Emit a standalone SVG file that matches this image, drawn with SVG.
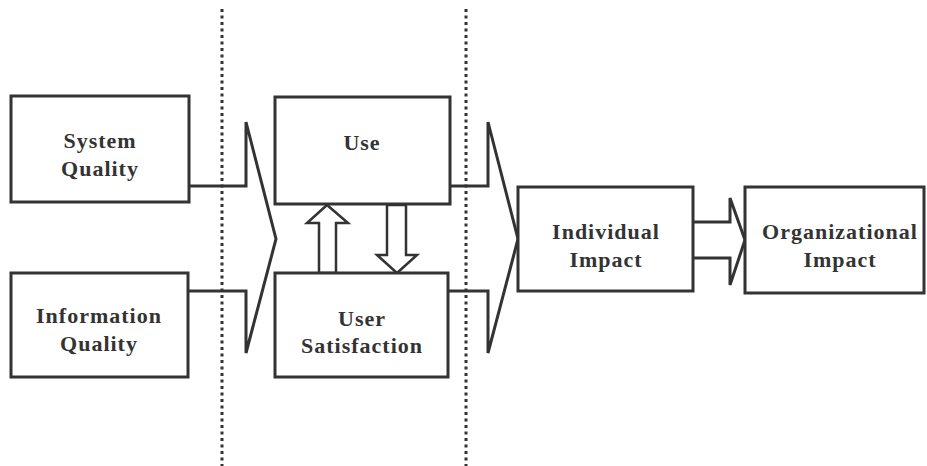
<svg xmlns="http://www.w3.org/2000/svg" width="927" height="466" viewBox="0 0 927 466">
<style>
.box{fill:#fff;stroke:#333;stroke-width:3}
.con{fill:none;stroke:#333;stroke-width:3;stroke-linejoin:miter}
.arr{fill:#fff;stroke:#333;stroke-width:2.5;stroke-linejoin:miter}
.div{stroke:#333;stroke-width:3;stroke-dasharray:3 3.5}
text{font-family:"Liberation Serif","Times New Roman",serif;font-weight:bold;font-size:22px;fill:#333;text-anchor:middle;letter-spacing:1px}
</style>
<rect width="927" height="466" fill="#fff"/>
<g id="dividers">
<line class="div" x1="222" y1="9" x2="222" y2="466"/>
<line class="div" x1="466" y1="9" x2="466" y2="466"/>
</g>
<g id="connectors">
<polyline class="con" points="189,186 246,186 246,122 276,239 246,353 246,291 189,291"/>
<polyline class="con" points="449,186 488,186 488,122 518,239 488,353 488,291 449,291"/>
<polyline class="con" points="693,222 730,222 730,198 745,240 730,285 730,258 693,258"/>
<polygon class="arr" points="319,273 319,223 307,223 327,205 348,223 336,223 336,273"/>
<polygon class="arr" points="387,205 387,255 377,255 397,273 417,255 406,255 406,205"/>
</g>
<g id="system-quality">
<rect class="box" x="11" y="96" width="178" height="106"/>
<text x="100" y="148">System</text>
<text x="100" y="176">Quality</text>
</g>
<g id="information-quality">
<rect class="box" x="11" y="273" width="177" height="104"/>
<text x="99" y="323">Information</text>
<text x="99" y="351">Quality</text>
</g>
<g id="use">
<rect class="box" x="275" y="97" width="175" height="107"/>
<text x="362" y="150">Use</text>
</g>
<g id="user-satisfaction">
<rect class="box" x="275" y="273" width="173" height="104"/>
<text x="362" y="326">User</text>
<text x="362" y="353">Satisfaction</text>
</g>
<g id="individual-impact">
<rect class="box" x="518" y="187" width="175" height="104"/>
<text x="606" y="239">Individual</text>
<text x="606" y="267">Impact</text>
</g>
<g id="organizational-impact">
<rect class="box" x="745" y="187" width="179" height="106"/>
<text x="840" y="239">Organizational</text>
<text x="840" y="267">Impact</text>
</g>
</svg>
